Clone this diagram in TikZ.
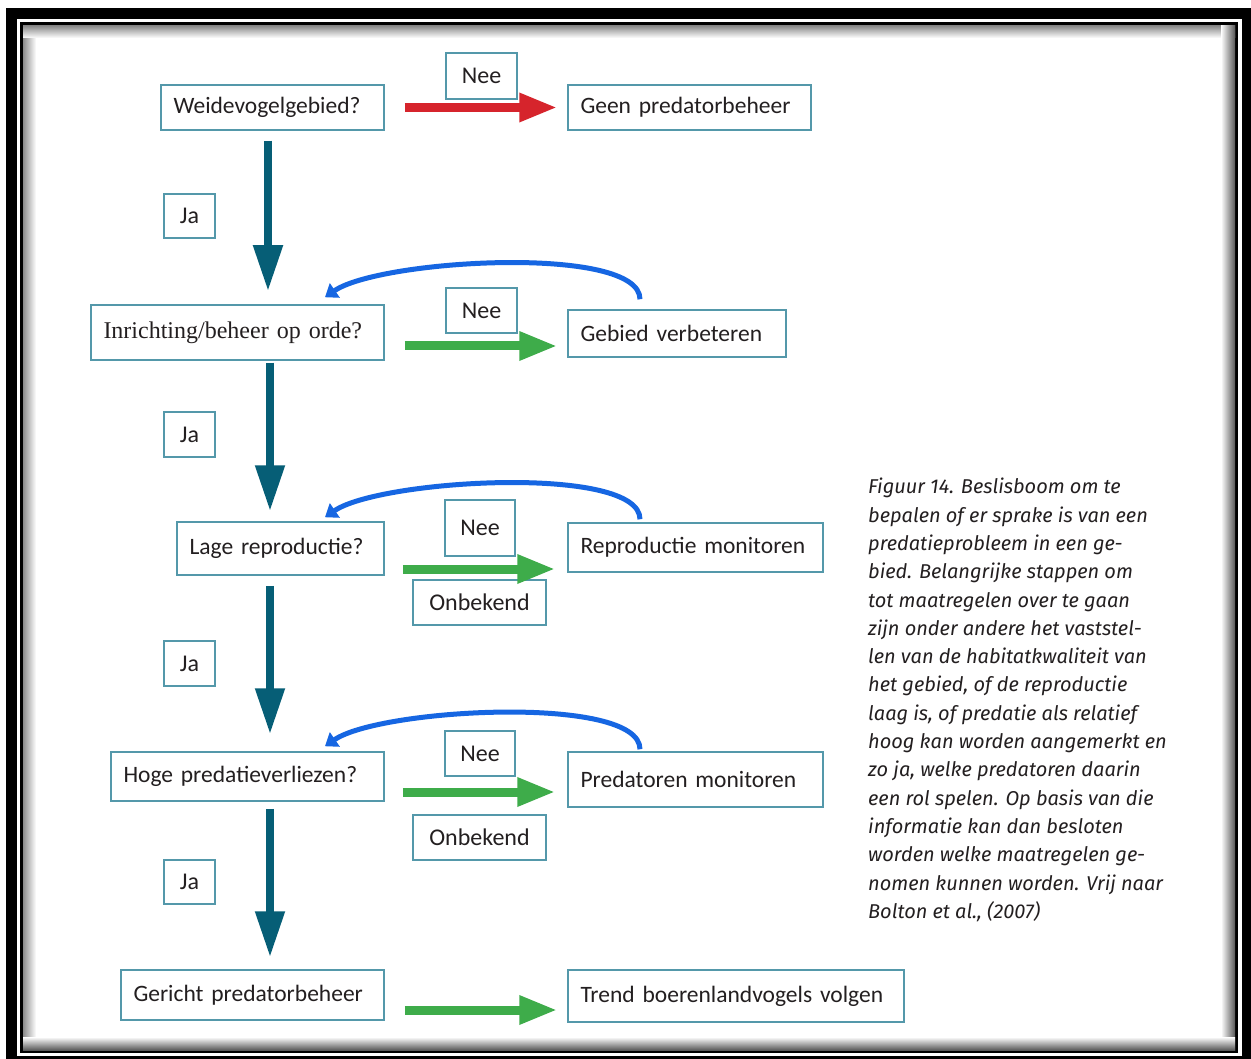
\documentclass[tikz,border=0pt]{standalone}
\usepackage{fontspec}
\setmainfont{Carlito}
\newfontfamily\serifbox{Liberation Serif}
\newfontfamily\capfont{Fira Sans}
\usepackage{xcolor}
\usepackage{tikz}
\usetikzlibrary{calc}
\usetikzlibrary{arrows.meta}
\usetikzlibrary{positioning}

\definecolor{boxc}{RGB}{84,152,170}
\definecolor{tealarr}{RGB}{6,94,118}
\definecolor{redarr}{RGB}{214,36,44}
\definecolor{greenarr}{RGB}{62,172,74}
\definecolor{bluearr}{RGB}{22,102,226}
\definecolor{txt}{RGB}{35,31,32}

\begin{document}
\begin{tikzpicture}[x=1pt, y=-1pt,
  box/.style={draw=boxc, line width=1.5pt, inner xsep=12.5pt, inner ysep=0pt,
    align=left, text=txt, font=\fontsize{23.5}{28}\selectfont},
  lbl/.style={draw=boxc, line width=1.5pt, inner sep=0pt, text=txt,
    font=\fontsize{24}{28}\selectfont},
  down/.style={line width=8pt, draw=tealarr, -{Triangle[length=46pt,width=28pt]}},
  fwd/.style={line width=9pt, -{Triangle[length=38pt,width=27pt]}},
  back/.style={line width=5pt, draw=bluearr, -{Triangle[length=12pt,width=17pt]}}]
 \useasboundingbox (0,0) rectangle (1251,1059);
 % frame
 \fill[black] (6,8) rectangle (1251,1059);
 \fill[white] (17,19) rectangle (1242,1056);
 \fill[black] (20,22) rectangle (1238,1053);
 \fill[white] (23,26) rectangle (1235,1050);
 \shade[left color=black!45, right color=white] (23,26) rectangle (36,1050);
 \shade[top color=black!45, bottom color=white] (23,26) rectangle (1235,38);
 \shade[left color=white, right color=black!65] (1221,26) rectangle (1235,1050);
 \shade[top color=white, bottom color=black!65] (23,1037) rectangle (1235,1050);

 % decision column
 \node [box, text width=198pt, minimum height=45pt] (W) at (272.5,107.5) {Weidevogelgebied?};
 \node [box, text width=268pt, minimum height=55pt, font=\serifbox\fontsize{24}{28}\selectfont] (I) at (237.5,332.5) {Inrichting/beheer op orde?};
 \node [box, text width=182pt, minimum height=53pt] (L) at (280.5,548.5) {Lage reproductie?};
 \node [box, text width=248pt, minimum height=49pt] (H) at (247.5,776.5) {Hoge predatieverliezen?};
 \node [box, text width=238pt, minimum height=50pt] (C) at (252.5,995) {Gericht predatorbeheer};

 % action column
 \node [box, text width=218pt, minimum height=45pt] (G) at (689.5,107.5) {Geen predatorbeheer};
 \node [box, text width=193pt, minimum height=47pt] (B) at (677,333.5) {Gebied verbeteren};
 \node [box, text width=230pt, minimum height=49pt] (R) at (695.5,547.5) {Reproductie monitoren};
 \node [box, text width=230pt, minimum height=55pt] (P) at (695.5,779.5) {Predatoren monitoren};
 \node [box, text width=311pt, minimum height=52pt] (T) at (736,996) {Trend boerenlandvogels volgen};

 % labels
 \node [lbl, minimum width=71pt, minimum height=46pt] (N1) at (481.5,76) {Nee};
 \node [lbl, minimum width=71pt, minimum height=45pt] (N2) at (481.5,310.5) {Nee};
 \node [lbl, minimum width=70pt, minimum height=56pt] (N3) at (480,528) {Nee};
 \node [lbl, minimum width=70pt, minimum height=45pt] (N4) at (480,753.5) {Nee};
 \node [lbl, minimum width=133pt, minimum height=45pt] (O1) at (479.5,602.5) {Onbekend};
 \node [lbl, minimum width=133pt, minimum height=45pt] (O2) at (479.5,837.5) {Onbekend};
 \node [lbl, minimum width=51pt, minimum height=44pt] (J1) at (189.5,216) {Ja};
 \node [lbl, minimum width=51pt, minimum height=45pt] (J2) at (189.5,434.5) {Ja};
 \node [lbl, minimum width=51pt, minimum height=45pt] (J3) at (189.5,663.5) {Ja};
 \node [lbl, minimum width=51pt, minimum height=44pt] (J4) at (189.5,882) {Ja};

 % caption
 \node [anchor=north west, align=left, inner sep=0pt, text=txt,
   font=\capfont\itshape\fontsize{20}{28.3}\selectfont] (cap) at (868,478)
 {Figuur 14. Beslisboom om te\\
  bepalen of er sprake is van een\\
  predatieprobleem in een ge-\\
  bied. Belangrijke stappen om\\
  tot maatregelen over te gaan\\
  zijn onder andere het vaststel-\\
  len van de habitatkwaliteit van\\
  het gebied, of de reproductie\\
  laag is, of predatie als relatief\\
  hoog kan worden aangemerkt en\\
  zo ja, welke predatoren daarin\\
  een rol spelen. Op basis van die\\
  informatie kan dan besloten\\
  worden welke maatregelen ge-\\
  nomen kunnen worden. Vrij naar\\
  Bolton et al., (2007)};

 \coordinate (s1) at (268,0);
 \coordinate (s2) at (270,0);
 \coordinate (bs) at (640,0);
 \coordinate (bk) at (325,0);

 % down arrows
 \draw [down, shorten <=10pt, shorten >=13pt] (W.south -| s1) -- (I.north -| s1);
 \draw [down, shorten <=2pt, shorten >=10pt] (I.south -| s2) -- (L.north -| s2);
 \draw [down, shorten <=10pt, shorten >=17pt] (L.south -| s2) -- (H.north -| s2);
 \draw [down, shorten <=7pt, shorten >=12pt] (H.south -| s2) -- (C.north -| s2);

 % forward arrows
 \draw [fwd, draw=redarr, shorten <=20pt, shorten >=10pt] (W.east) -- (W.east -| G.west);
 \draw [fwd, draw=greenarr, shorten <=20pt, shorten >=10pt] ($(I.east)+(0,13.5)$) -- ($(I.east -| B.west)+(0,13.5)$);
 \draw [fwd, draw=greenarr, shorten <=18pt, shorten >=12pt] ($(L.east)+(0,20.5)$) -- ($(L.east -| R.west)+(0,20.5)$);
 \draw [fwd, draw=greenarr, shorten <=18pt, shorten >=12pt] ($(H.east)+(0,15.5)$) -- ($(H.east -| P.west)+(0,15.5)$);
 \draw [fwd, draw=greenarr, shorten <=20pt, shorten >=10pt] ($(C.east)+(0,15)$) -- ($(C.east -| T.west)+(0,15)$);

 % back arrows
 \draw [back] ($(B.north -| bs)+(0,-10)$) .. controls +(0,-55) and +(55,-38) .. ($(I.north -| bk)+(0,-7)$);
 \draw [back] ($(R.north -| bs)+(0,-3)$) .. controls +(0,-55) and +(55,-38) .. ($(L.north -| bk)+(0,-4)$);
 \draw [back] ($(P.north -| bs)+(0,-2)$) .. controls +(0,-55) and +(55,-38) .. ($(H.north -| bk)+(0,-5)$);
\end{tikzpicture}
\end{document}
